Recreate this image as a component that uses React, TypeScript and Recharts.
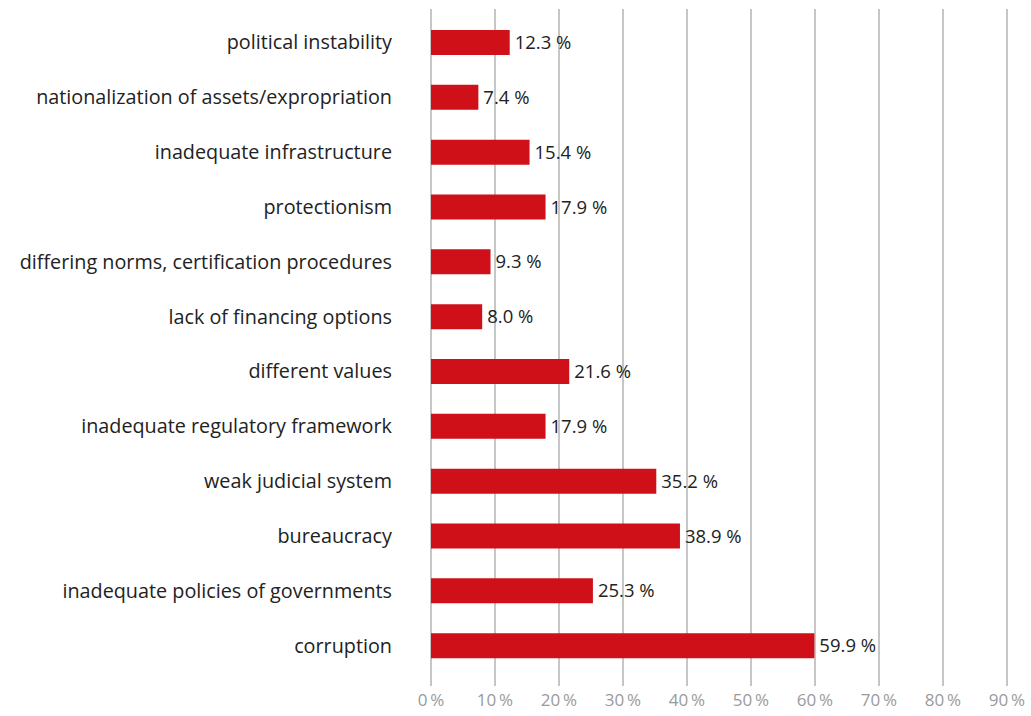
import { Bar, BarChart, CartesianGrid, LabelList, XAxis, YAxis } from "recharts";

const CATEGORIES = [
  "political instability",
  "nationalization of assets/expropriation",
  "inadequate infrastructure",
  "protectionism",
  "differing norms, certification procedures",
  "lack of financing options",
  "different values",
  "inadequate regulatory framework",
  "weak judicial system",
  "bureaucracy",
  "inadequate policies of governments",
  "corruption",
];
const SHARES = [12.3, 7.4, 15.4, 17.9, 9.3, 8.0, 21.6, 17.9, 35.2, 38.9, 25.3, 59.9];
const X_TICKS = [0, 10, 20, 30, 40, 50, 60, 70, 80, 90];

const FONT = "'Open Sans', Lato, sans-serif";

export default function App() {
  const data = CATEGORIES.map((name, i) => ({ name, share: SHARES[i] }));

  return (
    <div style={{ position: "absolute", left: 0, top: 0, fontFamily: FONT }}>
      <BarChart
        width={1031}
        height={716}
        data={data}
        layout="vertical"
        margin={{ top: 9, right: 24, bottom: 0, left: 0 }}
      >
        <CartesianGrid
          horizontal={false}
          stroke="#b3b3b3"
          strokeWidth={1.5}
        />
        <XAxis
          type="number"
          domain={[0, 90]}
          ticks={X_TICKS}
          height={30}
          axisLine={false}
          tickLine={false}
          tickSize={0}
          tickMargin={8}
          tickFormatter={(v: number) => `${v}\u2009%`}
          tick={{ fill: "#9a9a9a", fontSize: 17, fontFamily: FONT }}
        />
        <YAxis
          type="category"
          dataKey="name"
          width={431}
          axisLine={false}
          tickLine={false}
          tickSize={0}
          tickMargin={39}
          padding={{ top: 6, bottom: 13 }}
          tick={{ fill: "#222", fontSize: 19.8, fontFamily: FONT }}
        />
        <Bar dataKey="share" fill="#cf1019" barSize={25} isAnimationActive={false}>
          <LabelList
            dataKey="share"
            position="right"
            offset={5}
            formatter={(v: number) => `${v.toFixed(1)} %`}
            style={{ fill: "#222", fontSize: 18.5, fontFamily: FONT }}
          />
        </Bar>
      </BarChart>
    </div>
  );
}
